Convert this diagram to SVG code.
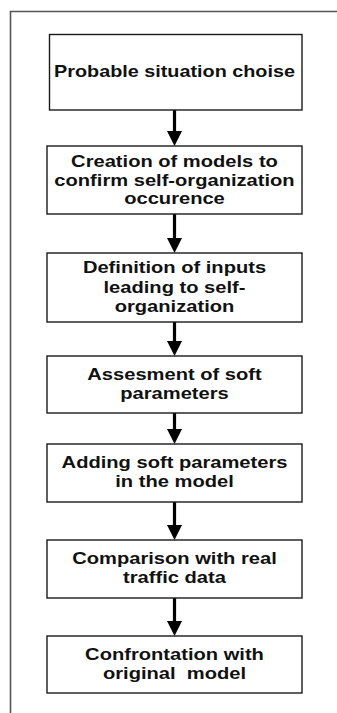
<svg xmlns="http://www.w3.org/2000/svg" width="337" height="713" viewBox="0 0 337 713">
<style>
.box{fill:#fff;stroke:#1a1a1a;stroke-width:1.4}
.t{font-family:"Liberation Sans",Arial,sans-serif;font-weight:bold;font-size:16.5px;fill:#111;text-anchor:middle;white-space:pre}
.shaft{stroke:#000;stroke-width:3.2;fill:none}
.head{fill:#000}
</style>
<defs>
<path id="ah" class="head" d="M-7.5,0 L7.5,0 L0,15 Z"/>
</defs>
<rect width="337" height="713" fill="#fff"/>
<path d="M10.5,713 L10.5,11.5 L337,11.5" fill="none" stroke="#555" stroke-width="1.6"/>
<g id="connectors">
<line class="shaft" x1="174.5" y1="110" x2="174.5" y2="132"/><use href="#ah" x="174.5" y="131"/>
<line class="shaft" x1="174.5" y1="214" x2="174.5" y2="239"/><use href="#ah" x="174.5" y="238"/>
<line class="shaft" x1="174.5" y1="322" x2="174.5" y2="342"/><use href="#ah" x="174.5" y="341"/>
<line class="shaft" x1="174.5" y1="413" x2="174.5" y2="430"/><use href="#ah" x="174.5" y="429"/>
<line class="shaft" x1="174.5" y1="502" x2="174.5" y2="526"/><use href="#ah" x="174.5" y="525"/>
<line class="shaft" x1="174.5" y1="598" x2="174.5" y2="622"/><use href="#ah" x="174.5" y="621"/>
</g>
<g id="n1">
<rect class="box" x="49.5" y="34.5" width="252.5" height="75.5"/>
<text class="t" transform="translate(174.5,0) scale(1.2,1)" x="0" y="77.5">Probable situation choise</text>
</g>
<g id="n2">
<rect class="box" x="47" y="146" width="255" height="68"/>
<g transform="translate(174.5,0) scale(1.22,1)">
<text class="t" x="0" y="166.7">Creation of models to</text>
<text class="t" x="0" y="185.7">confirm self-organization</text>
<text class="t" x="0" y="204.5">occurence</text>
</g>
</g>
<g id="n3">
<rect class="box" x="47" y="253" width="255" height="69"/>
<g transform="translate(174.5,0) scale(1.22,1)">
<text class="t" x="0" y="273.3">Definition of inputs</text>
<text class="t" x="0" y="292.6">leading to self-</text>
<text class="t" x="0" y="311.7">organization</text>
</g>
</g>
<g id="n4">
<rect class="box" x="47" y="356" width="255" height="57"/>
<g transform="translate(174.5,0) scale(1.22,1)">
<text class="t" x="0" y="380.5">Assesment of soft</text>
<text class="t" x="0" y="399.5">parameters</text>
</g>
</g>
<g id="n5">
<rect class="box" x="47" y="444" width="255" height="58"/>
<g transform="translate(174.5,0) scale(1.22,1)">
<text class="t" x="0" y="468.4">Adding soft parameters</text>
<text class="t" x="0" y="487.4">in the model</text>
</g>
</g>
<g id="n6">
<rect class="box" x="47" y="540" width="255" height="58"/>
<g transform="translate(174.5,0) scale(1.22,1)">
<text class="t" x="0" y="564.3">Comparison with real</text>
<text class="t" x="0" y="583.3">traffic data</text>
</g>
</g>
<g id="n7">
<rect class="box" x="47" y="636" width="255" height="57"/>
<g transform="translate(174.5,0) scale(1.22,1)">
<text class="t" x="0" y="660.3">Confrontation with</text>
<text class="t" x="0" y="679">original  model</text>
</g>
</g>
</svg>
